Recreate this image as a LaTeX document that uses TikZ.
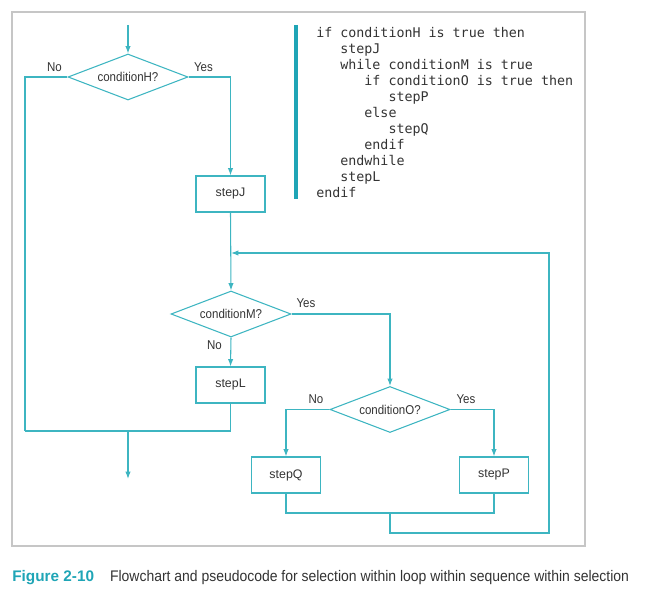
\documentclass[tikz,border=0pt]{standalone}
\usepackage{fontspec}
\setmainfont{Liberation Sans}
\setmonofont{DejaVu Sans Mono}
\newfontfamily\lblfont[FakeStretch=0.9]{Liberation Sans}
\newfontfamily\capfont[FakeStretch=0.91]{Liberation Sans}
\usepackage{xcolor}
\usetikzlibrary{shapes.geometric,arrows.meta,positioning}
\newcommand{\boxw}{51.75pt}
\newcommand{\boxh}{27pt}
\newcommand{\ind}{\phantom{xxx}}
\tikzset{
    linesty/.style={draw=flowteal, line width=0.8pt},
    arrsty/.style={linesty, -{Latex[length=5.5pt,width=4pt]}},
    decsty/.style={linesty, diamond, aspect=2.6, inner sep=0pt, minimum width=90pt, minimum height=34.5pt, font=\lblfont\fontsize{9.6}{11}\selectfont, text=inkgray},
    stepsty/.style={linesty, rectangle, minimum width=\boxw, minimum height=\boxh, inner sep=0pt, font=\fontsize{9.3}{11}\selectfont, text=inkgray},
    answsty/.style={inner sep=0pt, font=\lblfont\fontsize{9.6}{11}\selectfont, text=inkgray},
    codesty/.style={inner sep=0pt, align=left, font=\ttfamily\fontsize{10}{12}\selectfont, text=inkgray},
    barsty/.style={draw=figteal, line width=2.6pt},
    framesty/.style={draw=framegray, line width=0.9pt},
    capsty/.style={inner sep=0pt, font=\fontsize{11.5}{14}\selectfont, text=inkgray},
}
\definecolor{flowteal}{HTML}{3DB5C1}
\definecolor{figteal}{HTML}{1FA5B6}
\definecolor{framegray}{HTML}{C6C6C6}
\definecolor{inkgray}{HTML}{333333}

\begin{document}
\begin{tikzpicture}[x=0.75pt, y=-0.75pt]
  \useasboundingbox (0,0) rectangle (668,599);
  \draw[framesty] (12,12) rectangle (585,546);

  % flowchart
  \node[decsty]  (decH)  at (128,77)    {conditionH?};
  \node[stepsty] (stepJ) at (230.5,194) {stepJ};
  \node[decsty]  (decM)  at (231,314)   {conditionM?};
  \node[stepsty] (stepL) at (230.5,385) {stepL};
  \node[decsty]  (decO)  at (390,409.5) {conditionO?};
  \node[stepsty] (stepQ) at (286,475)   {stepQ};
  \node[stepsty] (stepP) at (494,475)   {stepP};

  \node[answsty] (noH)  at (54.5,67)  {No};
  \node[answsty] (yesH) at (203.5,67) {Yes};
  \node[answsty] (yesM) at (306,303)  {Yes};
  \node[answsty] (noM)  at (214.5,345.5) {No};
  \node[answsty] (noO)  at (316,399)  {No};
  \node[answsty] (yesO) at (466,399)  {Yes};

  \coordinate (start) at (128,25);
  \coordinate (lftc)  at (25,431);
  \coordinate (joinH) at (128,431);
  \coordinate (endc)  at (128,479);
  \coordinate (mrgO)  at (390,513);
  \coordinate (loopc) at (549,533);
  \coordinate (loopin) at (231,253);

  \draw[arrsty] (start) -- (decH.north);
  \draw[linesty] (decH.west) -| (lftc);
  \draw[arrsty] (decH.east) -| (stepJ.north);
  \draw[arrsty] (stepJ.south) -- (decM.north);
  \draw[arrsty] (decM.south) -- (stepL.north);
  \draw[arrsty] (decM.east) -| (decO.north);
  \draw[arrsty] (decO.west) -| (stepQ.north);
  \draw[arrsty] (decO.east) -| (stepP.north);
  \draw[linesty] (stepQ.south) |- (mrgO) -| (stepP.south);
  \draw[arrsty] (mrgO) |- (loopc) |- (loopin);
  \draw[linesty] (stepL.south) |- (lftc);
  \draw[arrsty] (joinH) -- (endc);

  % pseudocode
  \coordinate (bartop) at (296,25);
  \coordinate (barbot) at (296,199);
  \draw[barsty] (bartop) -- (barbot);
  \node[codesty, anchor=north west] (code) at (316,27.5) {if conditionH is true then\\
    \ind stepJ\\
    \ind while conditionM is true\\
    \ind\ind if conditionO is true then\\
    \ind\ind\ind stepP\\
    \ind\ind else\\
    \ind\ind\ind stepQ\\
    \ind\ind endif\\
    \ind endwhile\\
    \ind stepL\\
    endif};

  \node[capsty, anchor=base west] (cap) at (12,581.5) {{\bfseries\color{figteal}Figure 2-10}\hspace{12pt}{\capfont Flowchart and pseudocode for selection within loop within sequence within selection}};
\end{tikzpicture}
\end{document}
